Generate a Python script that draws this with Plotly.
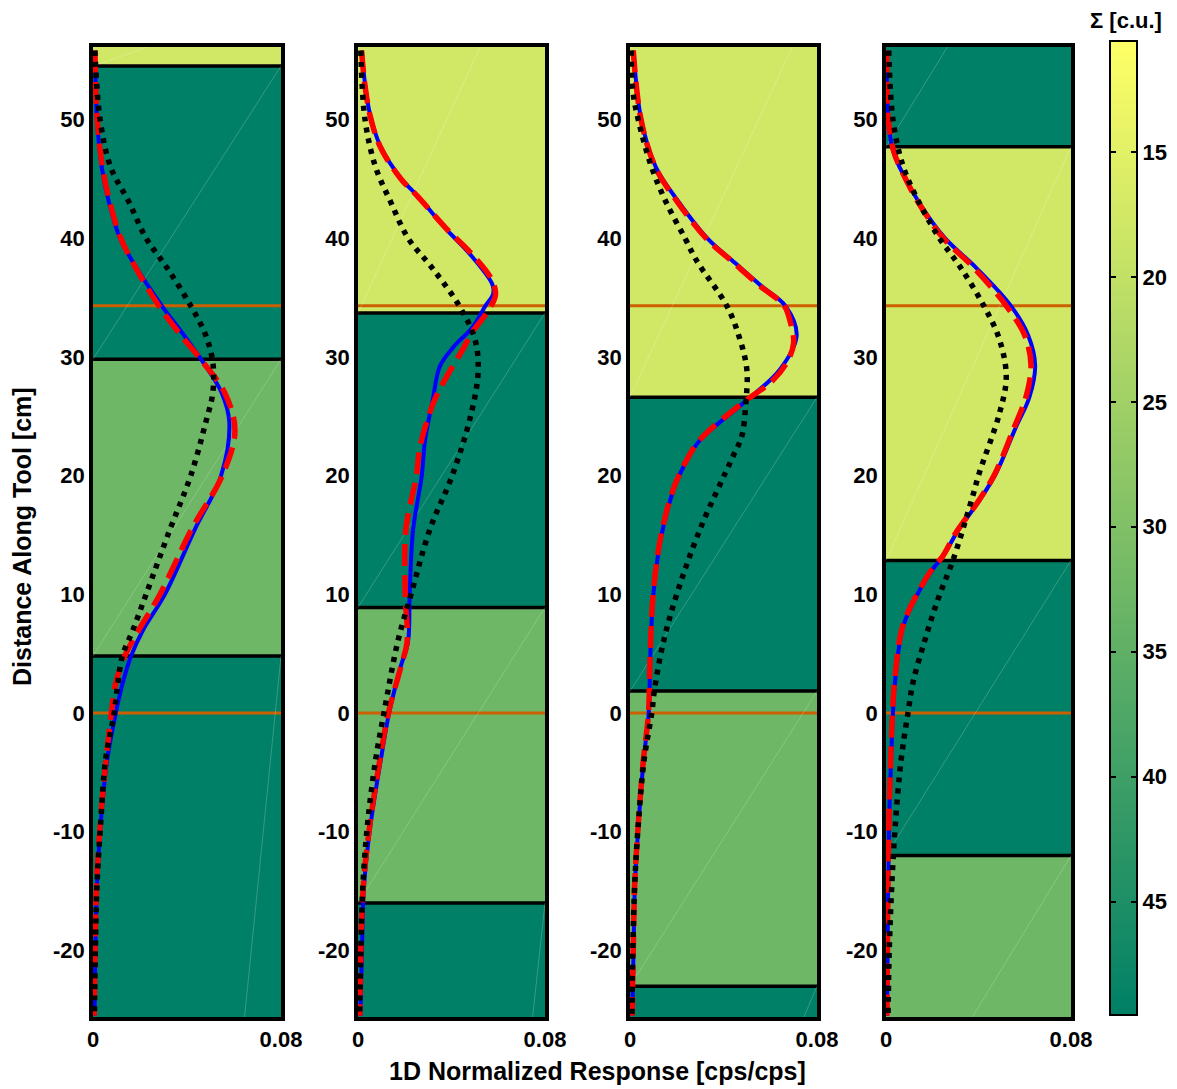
import numpy as np
import plotly.graph_objects as go

# ---------------- data ----------------
Y_RANGE = [-25.6, 56.1]
X_RANGE = [0, 0.08]
SIGMA_MIN, SIGMA_MAX = 10.6, 49.5
cbar_ticks = [15, 20, 25, 30, 35, 40, 45]
y_ticks = [-20, -10, 0, 10, 20, 30, 40, 50]
y_ticklabels = ["-20", "-10", "0", "10", "20", "30", "40", "50"]
ref_lines = [34.3, 0.0]

# layer boundaries (bottom -> top, incl. outer extents) and sigma per layer
p1_bounds = [-152, 4.8, 29.8, 54.5, 60]
p1_sigma = [49.5, 32.8, 49.5, 17.6]
p2_bounds = [-161, -16.0, 8.9, 33.7, 68]
p2_sigma = [49.5, 32.8, 49.5, 17.6]
p3_bounds = [-60, -23.0, 1.85, 26.6, 60.6]
p3_sigma = [49.5, 32.8, 49.5, 17.6]
p4_bounds = [-37.5, -12.0, 12.86, 47.7, 73]
p4_sigma = [32.8, 49.5, 17.6, 49.5]

# panel 1 curves
p1_y = [55.8, 50, 46, 43, 40, 37.5, 34.3, 31.8, 29.5, 27, 24.5, 20, 15.5, 10, 7, 4.8, 2.4, 0, -4, -9.5, -14.5, -20, -25.5]
p1_blue = [0.0009, 0.0017, 0.0037, 0.0068, 0.0115, 0.0185, 0.0293, 0.0388, 0.047, 0.0547, 0.058, 0.0545, 0.0434, 0.0306, 0.0213, 0.0162, 0.0125, 0.0097, 0.006, 0.0032, 0.0017, 0.001, 0.0007]
p1_red_y = [55.8, 50, 46, 43, 40, 37.5, 34.3, 31.8, 29.5, 27, 23.8, 20, 15.5, 10, 7, 4.8, 2.4, 0, -4, -9.5, -14.5, -20, -25.5]
p1_red = [0.0008, 0.0018, 0.004, 0.0072, 0.0118, 0.0182, 0.028, 0.0375, 0.047, 0.056, 0.0604, 0.055, 0.042, 0.0285, 0.0195, 0.0135, 0.0095, 0.0078, 0.0055, 0.003, 0.0015, 0.0008, 0.0005]
p1_black = [0.0008, 0.003, 0.0075, 0.0154, 0.0226, 0.0315, 0.0416, 0.048, 0.051, 0.051, 0.048, 0.0416, 0.0328, 0.0226, 0.017, 0.0125, 0.0105, 0.009, 0.0053, 0.0032, 0.0017, 0.001, 0.0006]

# panel 2 curves
p2_y = [55.8, 53, 50.3, 47.7, 45, 43.5, 40.8, 38.7, 36.1, 35.3, 34.3, 32.5, 30.8, 29.2, 26.4, 23, 20, 15.5, 10, 6, 4, 0, -4, -9.5, -14.5, -20, -25.5]
p2_blue = [0.0017, 0.003, 0.0053, 0.0097, 0.0185, 0.0258, 0.0375, 0.0477, 0.0575, 0.0578, 0.0545, 0.049, 0.0407, 0.035, 0.032, 0.0287, 0.0273, 0.0236, 0.0221, 0.0214, 0.0184, 0.0133, 0.0097, 0.0053, 0.0026, 0.0017, 0.001]
p2_red_y = [55.8, 53, 50.3, 47.7, 45, 43.5, 40.8, 38.7, 36.5, 35.2, 33.7, 32.1, 30.7, 27.8, 26, 22.4, 20, 15.5, 10, 6, 4, 0, -4, -9.5, -14.5, -20, -25.5]
p2_red = [0.0015, 0.0029, 0.0052, 0.0095, 0.0183, 0.0256, 0.0378, 0.0485, 0.0572, 0.0588, 0.055, 0.049, 0.045, 0.0364, 0.032, 0.0265, 0.025, 0.0205, 0.0202, 0.021, 0.0185, 0.013, 0.0093, 0.005, 0.0023, 0.0012, 0.0008]
p2_black_y = [55.8, 50, 46, 43, 40, 37.5, 34.3, 31.5, 28.8, 25.2, 20, 15.5, 10, 6, 0, -4, -9.5, -14.5, -20, -25.5]
p2_black = [0.0012, 0.003, 0.0075, 0.0141, 0.0214, 0.0317, 0.0433, 0.05, 0.0514, 0.0484, 0.0403, 0.0308, 0.0227, 0.017, 0.0111, 0.0075, 0.004, 0.0021, 0.0012, 0.0007]

# panel 3 curves
p3_y = [55.8, 50, 46, 43, 40, 37.9, 36, 34.3, 31.8, 28.9, 26.1, 23, 21.3, 19, 15, 10, 4.8, 0, -4, -9.5, -14.5, -20, -25.5]
p3_blue = [0.0015, 0.0048, 0.011, 0.021, 0.033, 0.045, 0.056, 0.0665, 0.0713, 0.064, 0.0484, 0.030, 0.0243, 0.019, 0.0135, 0.010, 0.0087, 0.008, 0.0058, 0.0036, 0.0021, 0.0015, 0.001]
p3_red_y = [55.8, 50, 46, 43, 40, 37.9, 36, 34.3, 33, 31.2, 29.7, 28, 26.1, 23, 21.3, 19, 15, 10, 4.8, 0, -4, -9.5, -14.5, -20, -25.5]
p3_red = [0.0014, 0.0047, 0.0108, 0.0205, 0.0325, 0.0445, 0.0555, 0.066, 0.0685, 0.070, 0.0676, 0.061, 0.048, 0.0298, 0.0242, 0.0188, 0.0133, 0.0099, 0.0086, 0.0079, 0.0057, 0.0035, 0.002, 0.0014, 0.0009]
p3_black_y = [55.8, 52.4, 50, 46, 43, 40, 38.1, 34.3, 31.5, 28.9, 26, 23.3, 21.6, 15.5, 10, 6, 2, 0, -4, -9.5, -14.5, -20, -25.5]
p3_black = [0.0005, 0.0012, 0.0035, 0.0092, 0.0155, 0.0235, 0.0285, 0.0414, 0.047, 0.050, 0.0495, 0.0478, 0.044, 0.030, 0.020, 0.0143, 0.0105, 0.0093, 0.006, 0.0035, 0.002, 0.0012, 0.0008]

# panel 4 curves
p4_y = [55.8, 50, 47.4, 46, 43, 40, 37.6, 34.3, 31.8, 29.3, 26.6, 24, 20.2, 18, 15.2, 13.2, 12.2, 10.4, 7.3, 2.6, 0, -4, -9.5, -20, -25.5]
p4_blue = [0.0003, 0.001, 0.003, 0.0058, 0.0143, 0.0255, 0.0385, 0.054, 0.0615, 0.0645, 0.062, 0.056, 0.0476, 0.0407, 0.0306, 0.0247, 0.0205, 0.0147, 0.0074, 0.0039, 0.003, 0.0022, 0.0013, 0.0007, 0.0005]
p4_red = [0.0003, 0.001, 0.0032, 0.006, 0.014, 0.0248, 0.0375, 0.052, 0.0600, 0.0627, 0.0605, 0.0553, 0.0472, 0.0405, 0.0303, 0.0245, 0.0202, 0.0145, 0.0072, 0.0037, 0.0028, 0.002, 0.0012, 0.0006, 0.0004]
p4_black_y = [55.8, 50, 46, 43, 40, 37.6, 34.3, 31.5, 28.3, 25.2, 20.2, 18, 12.9, 9.6, 6.2, 2.6, 0, -4, -9.5, -14.5, -20, -25.5]
p4_black = [0.0012, 0.003, 0.0075, 0.0143, 0.0231, 0.032, 0.0423, 0.049, 0.052, 0.049, 0.0403, 0.0371, 0.029, 0.0225, 0.0169, 0.0117, 0.0095, 0.0065, 0.004, 0.0025, 0.0014, 0.0009]

panels = [
    dict(bounds=p1_bounds, sigma=p1_sigma, blue=(p1_y, p1_blue), red=(p1_red_y, p1_red), black=(p1_y, p1_black)),
    dict(bounds=p2_bounds, sigma=p2_sigma, blue=(p2_y, p2_blue), red=(p2_red_y, p2_red), black=(p2_black_y, p2_black)),
    dict(bounds=p3_bounds, sigma=p3_sigma, blue=(p3_y, p3_blue), red=(p3_red_y, p3_red), black=(p3_black_y, p3_black)),
    dict(bounds=p4_bounds, sigma=p4_sigma, blue=(p4_y, p4_blue), red=(p4_y, p4_red), black=(p4_black_y, p4_black)),
]

# ---------------- styling ----------------
W, H = 1177, 1089
YELLOW = (255, 255, 102)
DARK = (0, 128, 102)
COLORSCALE = [[0, "rgb(255,255,102)"], [1, "rgb(0,128,102)"]]
FONT = "Arial, Liberation Sans, sans-serif"
TICKFONT = dict(family=FONT, size=22, color="black", weight="bold")

def sigma_color(s):
    t = (s - SIGMA_MIN) / (SIGMA_MAX - SIGMA_MIN)
    t = min(max(t, 0), 1)
    c = [round(a * (1 - t) + b * t) for a, b in zip(YELLOW, DARK)]
    return f"rgb({c[0]},{c[1]},{c[2]})"

px_left = [93, 358, 630, 886]
px_right = [281, 545, 817, 1071]
y_top_px, y_bot_px = 47, 1017

fig = go.Figure()
shapes = []
layout_axes = {}

for i, p in enumerate(panels):
    n = i + 1
    xa = "x" if n == 1 else f"x{n}"
    ya = "y" if n == 1 else f"y{n}"
    xkey = "xaxis" if n == 1 else f"xaxis{n}"
    ykey = "yaxis" if n == 1 else f"yaxis{n}"
    layout_axes[xkey] = dict(
        domain=[px_left[i] / W, px_right[i] / W], anchor=ya, range=X_RANGE,
        tickvals=[0, 0.08], ticktext=["0", "0.08"], showgrid=False, zeroline=False,
        showline=True, mirror=True, linewidth=3.5, linecolor="black", ticks="",
        tickfont=TICKFONT, fixedrange=True, automargin=False,
    )
    layout_axes[ykey] = dict(
        domain=[1 - y_bot_px / H, 1 - y_top_px / H], anchor=xa, range=Y_RANGE,
        tickvals=y_ticks, ticktext=y_ticklabels, showgrid=False, zeroline=False,
        showline=True, mirror=True, linewidth=3.5, linecolor="black", ticks="",
        tickfont=TICKFONT, fixedrange=True, automargin=False,
    )
    b = p["bounds"]
    for k, s in enumerate(p["sigma"]):
        y0 = max(b[k], Y_RANGE[0])
        y1 = min(b[k + 1], Y_RANGE[1])
        if y1 <= y0:
            continue
        shapes.append(dict(type="rect", xref=xa, yref=ya, x0=X_RANGE[0], x1=X_RANGE[1], y0=y0, y1=y1,
                           fillcolor=sigma_color(s), line=dict(width=0), layer="below"))
    for k in range(len(p["sigma"])):
        fig.add_trace(go.Scatter(x=[X_RANGE[0], X_RANGE[1]], y=[b[k], b[k + 1]], mode="lines",
                                 line=dict(color="rgba(255,255,255,0.3)", width=0.7),
                                 xaxis=xa, yaxis=ya, showlegend=False, hoverinfo="skip"))
    for yb in b[1:-1]:
        if Y_RANGE[0] < yb < Y_RANGE[1]:
            shapes.append(dict(type="line", xref=xa, yref=ya, x0=X_RANGE[0], x1=X_RANGE[1], y0=yb, y1=yb,
                               line=dict(color="black", width=3.5), layer="below"))
    for yr in ref_lines:
        shapes.append(dict(type="line", xref=xa, yref=ya, x0=X_RANGE[0], x1=X_RANGE[1], y0=yr, y1=yr,
                           line=dict(color="rgb(204,96,0)", width=3), layer="below"))
    by, bx = p["blue"]
    fig.add_trace(go.Scatter(x=bx, y=by, mode="lines", line=dict(color="rgb(0,0,255)", width=4, shape="spline", smoothing=1.0),
                             xaxis=xa, yaxis=ya, showlegend=False))
    ry, rx = p["red"]
    fig.add_trace(go.Scatter(x=rx, y=ry, mode="lines", line=dict(color="rgb(255,0,0)", width=5.5, dash="22px,9px", shape="spline", smoothing=1.0),
                             xaxis=xa, yaxis=ya, showlegend=False))
    ky, kx = p["black"]
    fig.add_trace(go.Scatter(x=kx, y=ky, mode="lines", line=dict(color="black", width=5.5, dash="5px,6px", shape="spline", smoothing=1.0),
                             xaxis=xa, yaxis=ya, showlegend=False))

# manual colour bar (gradient of the sigma scale) on its own axes
cb_vals = np.linspace(SIGMA_MIN, SIGMA_MAX, 300)
fig.add_trace(go.Heatmap(
    x=[0], y=cb_vals, z=[[v] for v in cb_vals], colorscale=COLORSCALE, zmin=SIGMA_MIN, zmax=SIGMA_MAX,
    showscale=False, xaxis="x5", yaxis="y5", hoverinfo="skip"))
layout_axes["xaxis5"] = dict(domain=[1111 / W, 1136 / W], anchor="y5", range=[-0.5, 0.5],
                             showticklabels=False, ticks="", showgrid=False, zeroline=False,
                             showline=True, mirror=True, linewidth=2, linecolor="black",
                             fixedrange=True, automargin=False)
layout_axes["yaxis5"] = dict(domain=[1 - 1014 / H, 1 - 42 / H], anchor="x5", range=[SIGMA_MAX, SIGMA_MIN],
                             side="right", tickvals=cbar_ticks, ticks="inside", ticklen=5, tickwidth=1.5,
                             tickcolor="black", showgrid=False, zeroline=False,
                             showline=True, mirror="ticks", linewidth=2, linecolor="black",
                             tickfont=TICKFONT, fixedrange=True, automargin=False)

annotations = [
    dict(text="Distance Along Tool [cm]", x=22 / W, y=1 - 537 / H, xref="paper", yref="paper",
         textangle=-90, showarrow=False, xanchor="center", yanchor="middle",
         font=dict(family=FONT, size=25, color="black", weight="bold")),
    dict(text="1D Normalized Response [cps/cps]", x=597 / W, y=1 - 1071 / H, xref="paper", yref="paper",
         showarrow=False, xanchor="center", yanchor="middle",
         font=dict(family=FONT, size=25, color="black", weight="bold")),
    dict(text="Σ [c.u.]", x=1126 / W, y=1 - 20 / H, xref="paper", yref="paper",
         showarrow=False, xanchor="center", yanchor="middle",
         font=dict(family=FONT, size=22, color="black", weight="bold")),
]

fig.update_layout(
    width=W, height=H, margin=dict(l=0, r=0, t=0, b=0, pad=0),
    paper_bgcolor="white", plot_bgcolor="white",
    shapes=shapes, annotations=annotations, showlegend=False,
    **layout_axes,
)

fig.write_html("out.html", config={"displayModeBar": False},
               post_script="document.body.style.margin='0';document.body.style.overflow='hidden';")
